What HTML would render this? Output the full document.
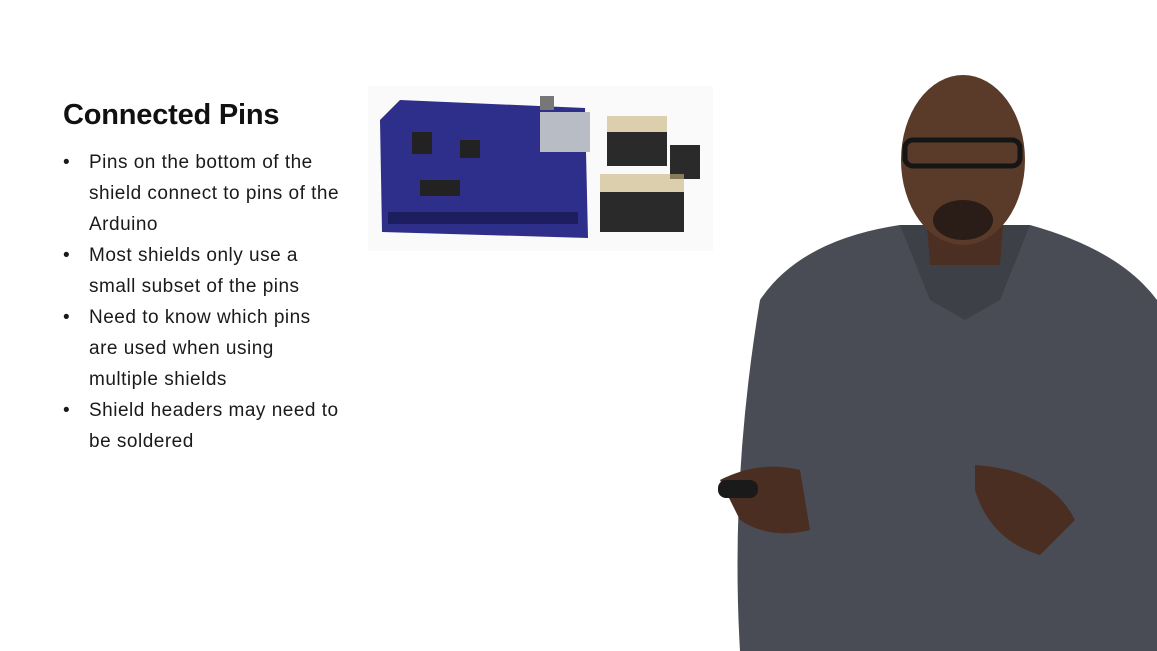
<!DOCTYPE html>
<html><head><meta charset="utf-8"><style>
body{margin:0;width:1157px;height:651px;overflow:hidden;background:#fff;position:relative;font-family:"Liberation Sans",sans-serif}
#title{position:absolute;left:63px;top:99px;font-size:29px;font-weight:bold;color:#111;letter-spacing:-0.2px}
ul{position:absolute;left:63px;top:147px;margin:0;padding:0;list-style:none;width:320px}
li{position:relative;padding-left:26px;font-size:19px;line-height:31px;color:#1a1a1a;white-space:nowrap;letter-spacing:0.5px}
li:before{content:"•";position:absolute;left:0;top:0}
svg{position:absolute;left:0;top:0}
</style></head><body>
<div id="title">Connected Pins</div>
<ul>
<li>Pins on the bottom of the<br>shield connect to pins of the<br>Arduino</li>
<li>Most shields only use a<br>small subset of the pins</li>
<li>Need to know which pins<br>are used when using<br>multiple shields</li>
<li>Shield headers may need to<br>be soldered</li>
</ul>
<svg width="1157" height="651">
<g>
<rect x="368" y="86" width="345" height="165" fill="#fafafb"/>
<polygon points="400,100 585,108 588,238 382,232 380,120" fill="#2e2f8a"/>
<rect x="540" y="112" width="50" height="40" fill="#b8bcc4"/>
<rect x="540" y="96" width="14" height="14" fill="#777"/>
<rect x="388" y="212" width="190" height="12" fill="#1d1e5e"/>
<rect x="420" y="180" width="40" height="16" fill="#222"/>
<rect x="412" y="132" width="20" height="22" fill="#222"/>
<rect x="460" y="140" width="20" height="18" fill="#222"/>
<rect x="607" y="132" width="60" height="34" fill="#2a2a2a"/>
<rect x="670" y="145" width="30" height="34" fill="#2a2a2a"/>
<rect x="600" y="192" width="84" height="40" fill="#2a2a2a"/>
<rect x="607" y="116" width="60" height="16" fill="#c8b27a" opacity="0.6"/>
<rect x="600" y="174" width="84" height="18" fill="#c8b27a" opacity="0.6"/>
</g>
<g>
<path d="M760,300 Q800,240 900,225 L1030,225 Q1120,250 1157,300 L1157,651 L740,651 Q730,480 760,300Z" fill="#4a4c55"/>
<path d="M900,225 L1030,225 L1000,300 L965,320 L930,300Z" fill="#3e4048"/>
<path d="M925,200 L1005,200 L1000,265 L930,265Z" fill="#4a2f22"/>
<ellipse cx="963" cy="160" rx="62" ry="85" fill="#5a3a28"/>
<rect x="905" y="140" width="115" height="26" rx="8" fill="none" stroke="#151515" stroke-width="5"/>
<ellipse cx="963" cy="220" rx="30" ry="20" fill="#2a1c16"/>
<path d="M720,480 Q760,460 800,470 L810,530 Q770,540 740,520Z" fill="#4a2e22"/>
<path d="M975,465 Q1050,470 1075,520 L1040,555 Q990,540 975,490Z" fill="#4a2e22"/>
<rect x="718" y="480" width="40" height="18" rx="8" fill="#1a1a1a"/>
</g>
</svg>
</body></html>
